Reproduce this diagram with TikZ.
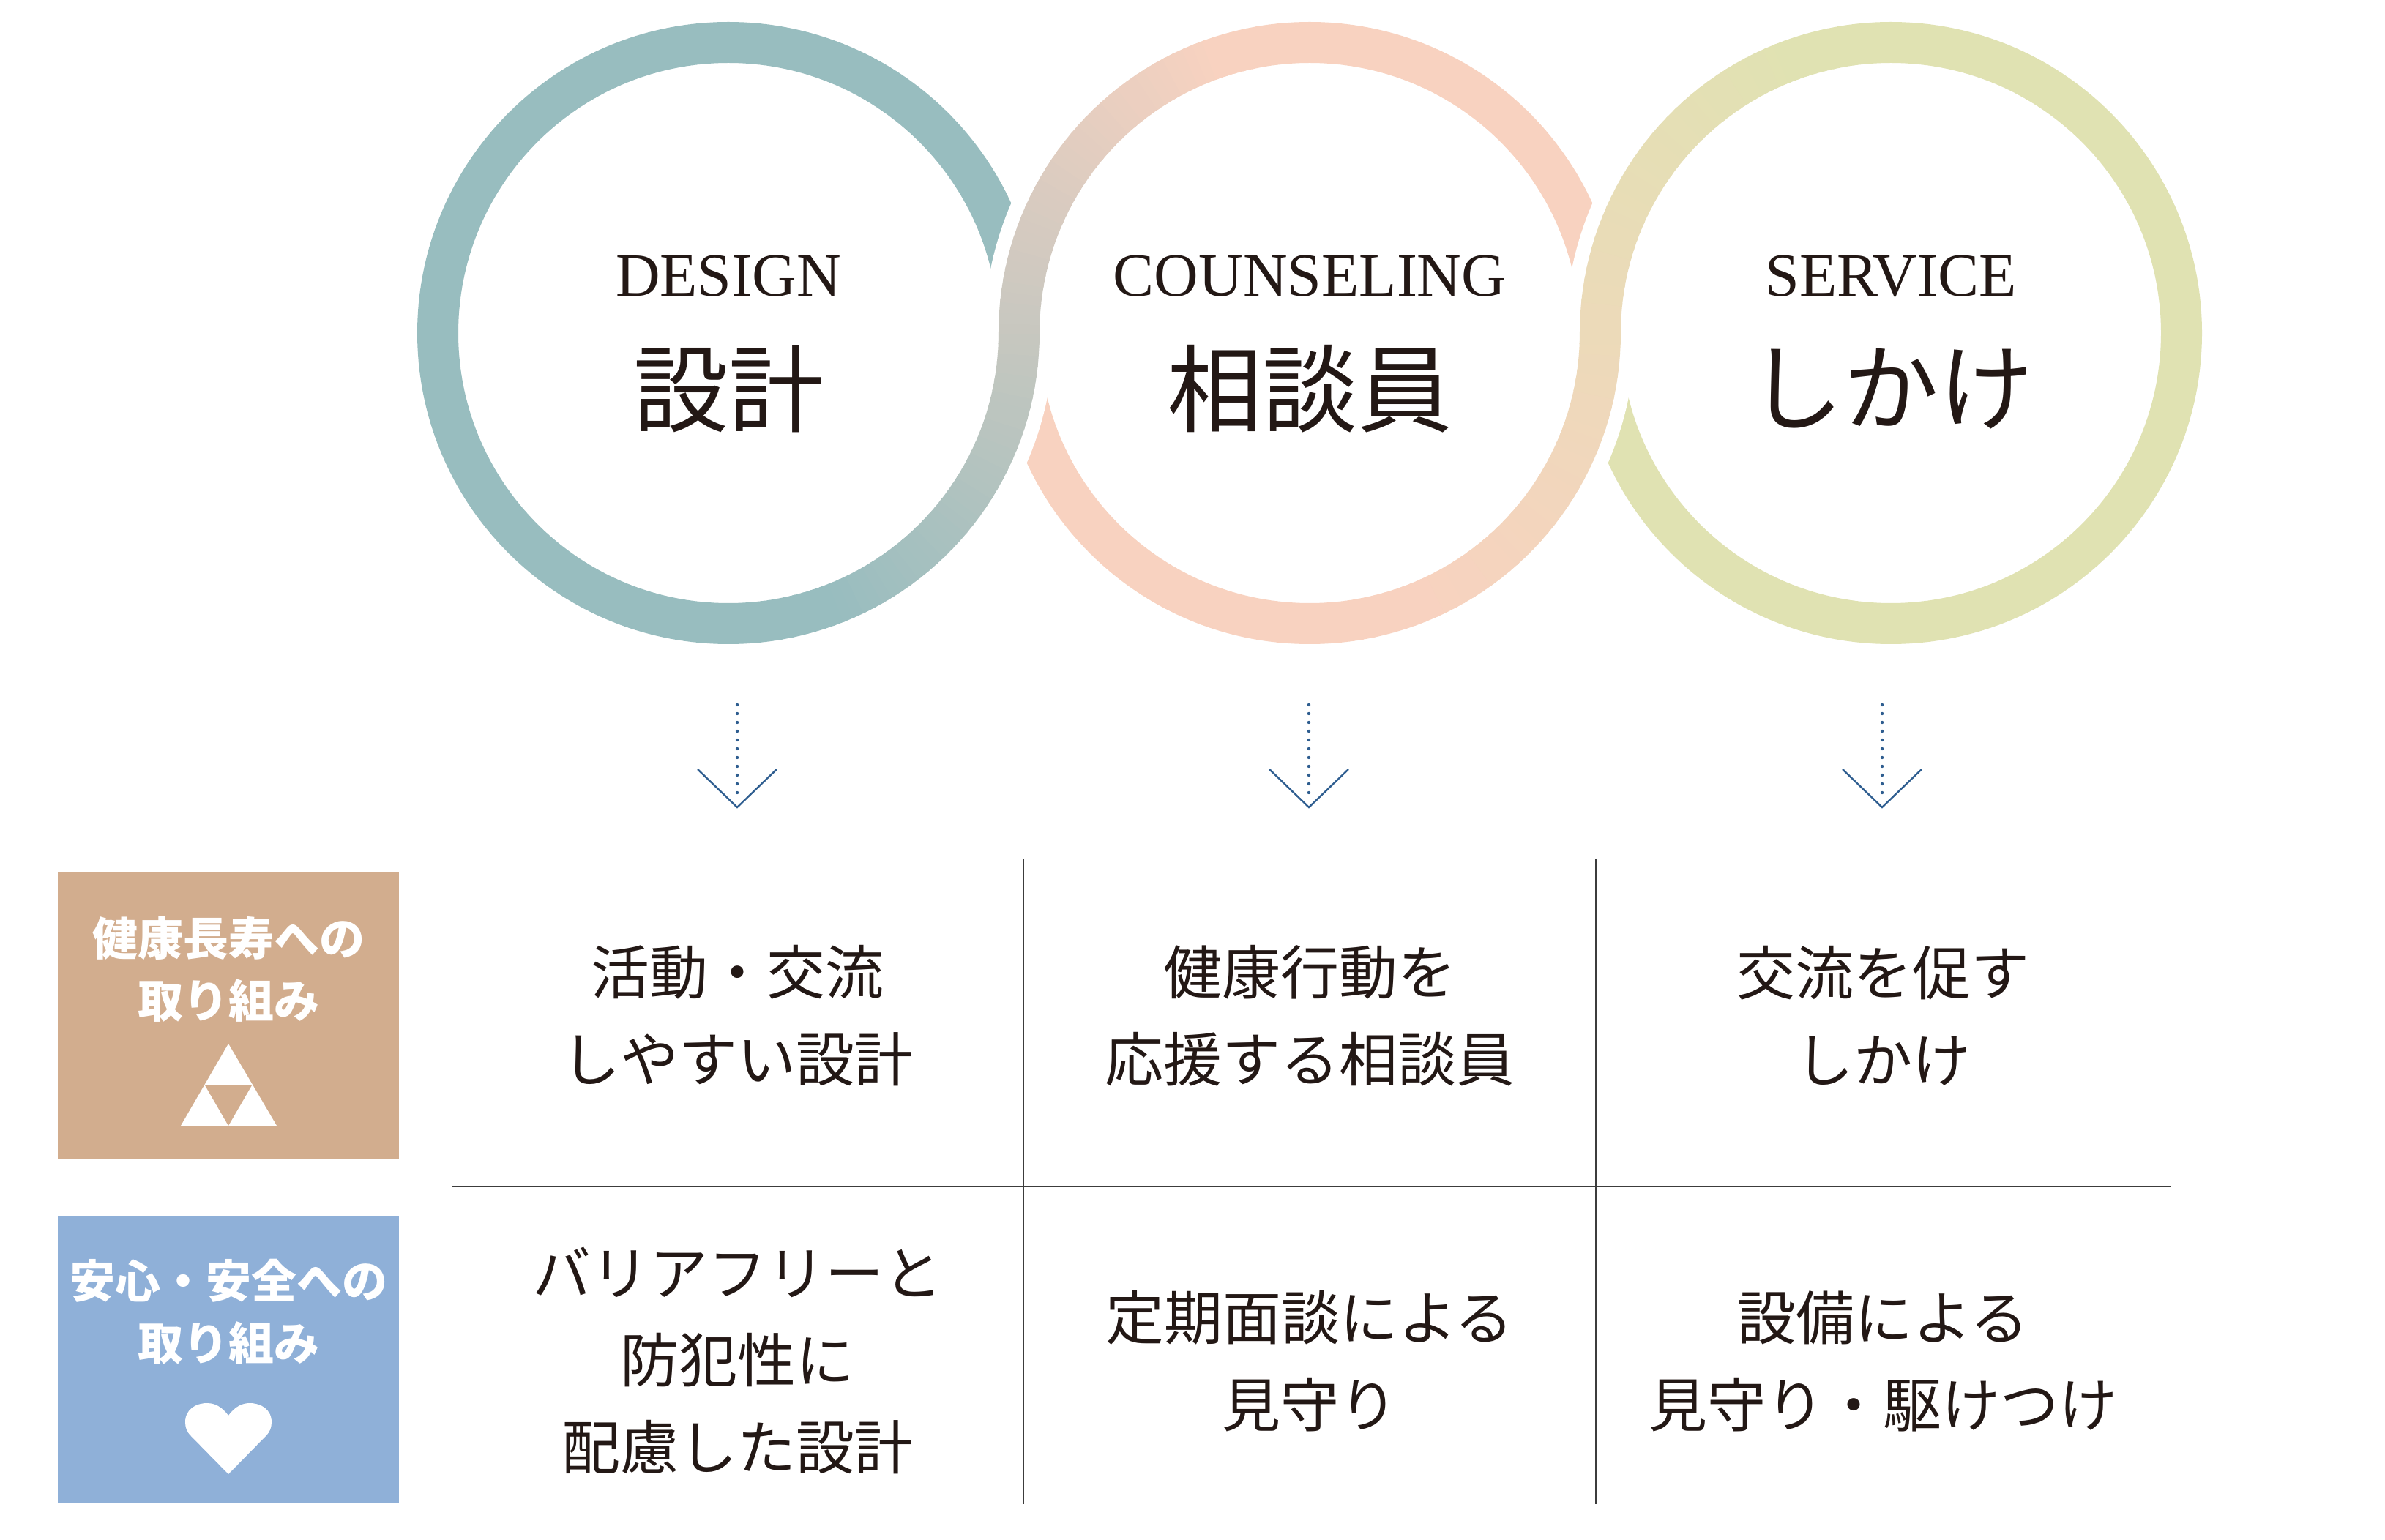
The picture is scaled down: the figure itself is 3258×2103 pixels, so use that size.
\documentclass[tikz,border=0pt]{standalone}
\usepackage{fontspec}
\setmainfont{Liberation Serif}
\newfontfamily\cjk{Noto Sans CJK JP}
\definecolor{cteal}{HTML}{98BDBF}
\definecolor{cpink}{HTML}{F8D2C0}
\definecolor{cgreen}{HTML}{E0E2B2}
\definecolor{ctan}{HTML}{D2AD8E}
\definecolor{cblue}{HTML}{8FB0D8}
\definecolor{carrow}{HTML}{2F5E90}
\definecolor{cline}{HTML}{3C3C3C}
\definecolor{ctext}{HTML}{231815}
\newcommand\myjunction[4]{%
  \draw[white, line width=23.75pt] (#2) ++(180:397) arc[start angle=180, end angle=100, radius=397];
  \draw[white, line width=23.75pt] (#1) ++(0:397) arc[start angle=0, end angle=-80, radius=397];
  \foreach \a in {-80,-78,...,-2}{%
    \pgfmathtruncatemacro\p{max(0,(\a+70)/70*50)}%
    \draw[line width=14pt, color=#4!\p!#3] (#1) ++(\a-0.3:397) arc[start angle=\a-0.3, end angle=\a+2.3, radius=397];
  }
  \foreach \b in {180,178,...,102}{%
    \pgfmathtruncatemacro\p{min(100,50+(180-\b)/70*50)}%
    \draw[line width=14pt, color=#4!\p!#3] (#2) ++(\b+0.3:397) arc[start angle=\b+0.3, end angle=\b-2.3, radius=397];
  }
}
\begin{document}
\begin{tikzpicture}[x=0.25pt,y=0.25pt,
  ring/.style={line width=14pt},
  entitle/.style={font=\fontsize{21pt}{25pt}\selectfont, text=ctext, inner sep=0, anchor=base},
  jatitle/.style={font=\cjk\fontsize{32.5pt}{36pt}\selectfont, text=ctext, inner sep=0},
  cell/.style={font=\cjk\fontsize{20pt}{29.75pt}\selectfont, align=center, text=ctext, inner sep=0},
  boxtext/.style={font=\cjk\bfseries\fontsize{15.5pt}{21.25pt}\selectfont, align=center, text=white, inner sep=0},
  catbox/.style={minimum width=116.5pt, minimum height=98pt, inner sep=0, draw=none},
  dotline/.style={carrow, line width=1.1pt, line cap=round, dash pattern=on 0pt off 3pt},
  vhead/.style={carrow, line width=0.6pt},
  tline/.style={cline, line width=0.55pt}]
\useasboundingbox (0,0) rectangle (3258,2103);
\fill[white] (0,0) rectangle (3258,2103);

% circle centres
\coordinate (c1) at (995,1648);
\coordinate (c2) at (1789,1648);
\coordinate (c3) at (2583,1648);

% full rings
\draw[ring, cteal] (c1) circle[radius=397];
\draw[ring, cpink] (c2) circle[radius=397];
\draw[ring, cgreen] (c3) circle[radius=397];

% interlocking junctions
\myjunction{c1}{c2}{cteal}{cpink}
\myjunction{c2}{c3}{cpink}{cgreen}

% circle titles
\node[entitle] (e1) at (995,1698) {DESIGN};
\node[entitle] (e2) at (1789,1698) {COUNSELING};
\node[entitle] (e3) at (2583,1698) {SERVICE};
\node[jatitle] (j1) at (995,1572) {設計};
\node[jatitle] (j2) at (1789,1572) {相談員};
\node[jatitle] (j3) at (2583,1572) {しかけ};

% arrows
\foreach \i/\x in {1/1007, 2/1788, 3/2571}{
  \coordinate (as\i) at (\x,1140);
  \coordinate (ae\i) at (\x,1019.5);
  \coordinate (al\i) at (\x-54,1052);
  \coordinate (at\i) at (\x,1000);
  \coordinate (ar\i) at (\x+54,1052);
  \draw[dotline] (as\i) -- (ae\i);
  \draw[vhead] (al\i) -- (at\i) -- (ar\i);
}

% table lines
\coordinate (hl) at (617,482);
\coordinate (hr) at (2965,482);
\coordinate (v1t) at (1398,929);
\coordinate (v1b) at (1398,48);
\coordinate (v2t) at (2180,929);
\coordinate (v2b) at (2180,48);
\draw[tline] (hl) -- (hr);
\draw[tline] (v1t) -- (v1b);
\draw[tline] (v2t) -- (v2b);

% category boxes
\node[catbox, fill=ctan] (box1) at (312,716) {};
\node[catbox, fill=cblue] (box2) at (312,245) {};
\node[boxtext] (bt1) at (312,778.5) {健康長寿への\\取り組み};
\node[boxtext] (bt2) at (312,310.5) {安心・安全への\\取り組み};

% triforce icon
\fill[white] (312,677) -- (378,565) -- (247,565) -- cycle;
\fill[ctan] (279.5,621) -- (344.5,621) -- (312,565) -- cycle;

% heart icon
\fill[white] (312,89) -- (261,141) .. controls (255,147) and (253,153) .. (253,160)
  .. controls (253,177) and (267,186) .. (283,186)
  .. controls (297,186) and (306,177) .. (312,169)
  .. controls (318,177) and (327,186) .. (341,186)
  .. controls (357,186) and (371,177) .. (371,160)
  .. controls (371,153) and (369,147) .. (363,141) -- cycle;

% table cells
\node[cell] (t11) at (1007.5,715.5) {活動・交流\\しやすい設計};
\node[cell] (t12) at (1789,715.5) {健康行動を\\応援する相談員};
\node[cell] (t13) at (2572.5,715.5) {交流を促す\\しかけ};
\node[cell] (t21) at (1007.5,244) {バリアフリーと\\防犯性に\\配慮した設計};
\node[cell] (t22) at (1789,243.5) {定期面談による\\見守り};
\node[cell] (t23) at (2572.5,243.5) {設備による\\見守り・駆けつけ};
\end{tikzpicture}
\end{document}
